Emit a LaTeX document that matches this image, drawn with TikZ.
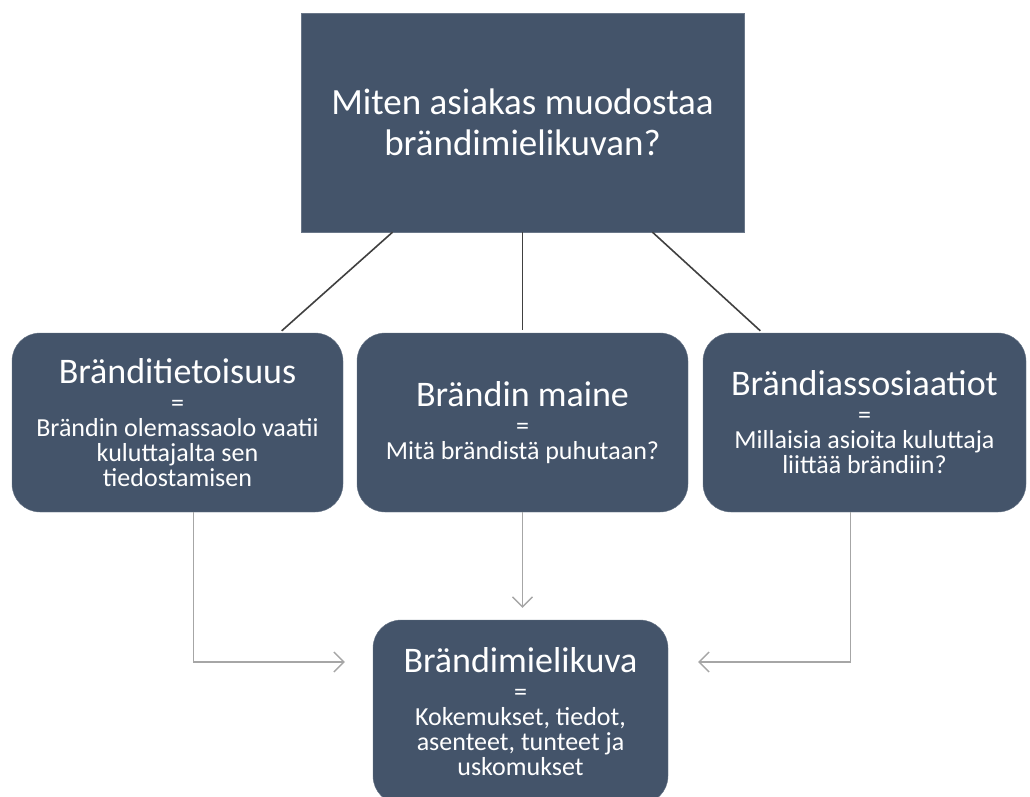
\documentclass[tikz,border=0pt]{standalone}
\usepackage{fontspec}
\setmainfont{Carlito}
\usetikzlibrary{arrows.meta}
\definecolor{slate}{HTML}{44546A}
\definecolor{linkgray}{HTML}{A6A6A6}
\newcommand{\headfont}{\fontsize{36}{38}\selectfont}
\newcommand{\bodyfont}{\fontsize{26}{25}\selectfont}

\begin{document}
\begin{tikzpicture}[x=1pt,y=-1pt,
    box/.style={draw=slate!80!white, fill=slate, text=white, align=center,
      rounded corners=28pt, minimum width=331pt, minimum height=179pt, font=\bodyfont},
    link/.style={draw=black!75, line width=1.6pt},
    flow/.style={draw=linkgray, line width=1.3pt, -{Straight Barb[length=10pt,width=20pt]}}]
    \useasboundingbox (0,0) rectangle (1030,796);
    \clip (0,0) rectangle (1030,796);

    \node[box, rounded corners=0pt, minimum width=443pt, minimum height=219pt,
      font=\fontsize{37}{41}\selectfont] (question) at (522.5,122.5)
      {Miten asiakas muodostaa\\brändimielikuvan?};

    \node[box] (awareness) at (177.5,422.5)
      {{\headfont Bränditietoisuus}\\[3pt] =\\ Brändin olemassaolo vaatii\\ kuluttajalta sen\\ tiedostamisen};
    \node[box] (reputation) at (522.5,422.5)
      {{\headfont Brändin maine}\\[3pt] =\\ Mitä brändistä puhutaan?};
    \node[box, minimum width=323pt] (associations) at (864.5,422.5)
      {{\headfont Brändiassosiaatiot}\\[3pt] =\\ Millaisia asioita kuluttaja\\ liittää brändiin?};

    \node[box, minimum width=295pt, minimum height=184pt] (image) at (520.5,712)
      {{\headfont Brändimielikuva}\\[3pt] =\\ Kokemukset, tiedot,\\ asenteet, tunteet ja\\ uskomukset};

    % question splits into three parts
    \draw[link, shorten >=3pt] ([xshift=-130pt]question.south) -- ([xshift=102pt]awareness.north);
    \draw[link, shorten >=3pt] (question.south) -- (reputation.north);
    \draw[link, shorten >=3pt] ([xshift=130pt]question.south) -- ([xshift=-102pt]associations.north);

    % parts lead to the brand image
    \draw[flow, shorten >=28pt] ([xshift=16pt]awareness.south) |- ([yshift=50pt]image.west);
    \draw[flow, shorten >=12pt] (reputation.south) -- (reputation.south |- image.north);
    \draw[flow, shorten >=30pt] ([xshift=-14pt]associations.south) |- ([yshift=50pt]image.east);
\end{tikzpicture}
\end{document}
